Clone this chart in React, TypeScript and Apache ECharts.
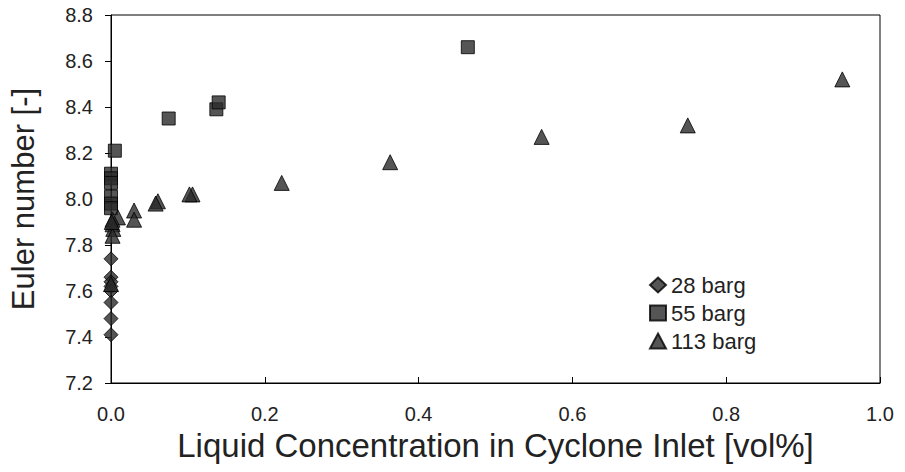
import React, { useEffect, useRef } from "react";
import * as echarts from "echarts";

const xTicks = [0, 0.2, 0.4, 0.6, 0.8, 1.0];
const yTicks = [7.2, 7.4, 7.6, 7.8, 8.0, 8.2, 8.4, 8.6, 8.8];

const s28x = [0, 0, 0, 0, 0, 0, 0, 0];
const s28y = [7.74, 7.66, 7.64, 7.62, 7.6, 7.55, 7.48, 7.41];

const s55x = [0.005, 0.0, 0.0, 0.0, 0.0, 0.0, 0.0, 0.075, 0.137, 0.14, 0.464];
const s55y = [8.21, 8.11, 8.09, 8.07, 8.01, 7.98, 7.96, 8.35, 8.39, 8.42, 8.66];

const s113x = [0.951, 0.75, 0.56, 0.363, 0.222, 0.106, 0.102, 0.061, 0.058, 0.03, 0.03, 0.009, 0.002, 0.002, 0.003, 0.002, 0.001, 0.0];
const s113y = [8.52, 8.32, 8.27, 8.16, 8.07, 8.02, 8.02, 7.99, 7.98, 7.95, 7.91, 7.92, 7.91, 7.89, 7.87, 7.84, 7.9, 7.63];

const names = ["28 barg", "55 barg", "113 barg"];

const zip = (xs: number[], ys: number[]) => xs.map((x, i) => [x, ys[i]]);

export default function App() {
  const ref = useRef<HTMLDivElement>(null);
  useEffect(() => {
    const chart = echarts.init(ref.current!, undefined, { renderer: "svg" });
    const font = "'Liberation Sans', Arial, sans-serif";
    const markerStyle = { color: "#2b2b2b", borderColor: "#000", borderWidth: 1 };
    chart.setOption({
      animation: false,
      backgroundColor: "#fff",
      textStyle: { fontFamily: font },
      grid: { left: 111, right: 25, top: 15, bottom: 89, show: true, borderColor: "#000", borderWidth: 1 },
      legend: {
        orient: "vertical",
        left: 644,
        top: 269,
        itemWidth: 16,
        itemHeight: 15,
        itemGap: 6,
        textStyle: { fontSize: 22, color: "#222", fontFamily: font },
        data: names,
      },
      xAxis: {
        type: "value",
        min: xTicks[0],
        max: xTicks[xTicks.length - 1],
        interval: 0.2,
        name: "Liquid Concentration in Cyclone Inlet [vol%]",
        nameLocation: "middle",
        nameGap: 44,
        nameTextStyle: { fontSize: 33, color: "#222", fontFamily: font },
        axisLine: { lineStyle: { color: "#000", width: 1 } },
        axisTick: { inside: true, length: 6, lineStyle: { color: "#000" } },
        axisLabel: { fontSize: 20, color: "#222", margin: 21, formatter: (v: number) => v.toFixed(1) },
        splitLine: { show: false },
      },
      yAxis: {
        type: "value",
        min: yTicks[0],
        max: yTicks[yTicks.length - 1],
        interval: 0.2,
        name: "Euler number [-]",
        nameLocation: "middle",
        nameGap: 72,
        nameTextStyle: { fontSize: 31, color: "#222", fontFamily: font },
        axisLine: { show: true, lineStyle: { color: "#000", width: 1 } },
        axisTick: { show: true, length: 6, lineStyle: { color: "#000" } },
        axisLabel: { fontSize: 20, color: "#222", margin: 18, formatter: (v: number) => v.toFixed(1) },
        splitLine: { show: false },
      },
      series: [
        { name: names[0], type: "scatter", symbol: "diamond", symbolSize: 14, itemStyle: markerStyle, data: zip(s28x, s28y) },
        { name: names[1], type: "scatter", symbol: "rect", symbolSize: 13, itemStyle: markerStyle, data: zip(s55x, s55y) },
        { name: names[2], type: "scatter", symbol: "triangle", symbolSize: 15, itemStyle: markerStyle, data: zip(s113x, s113y) },
      ],
    });
    return () => chart.dispose();
  }, []);
  return <div ref={ref} style={{ width: 905, height: 472, position: "absolute", left: 0, top: 0 }} />;
}
